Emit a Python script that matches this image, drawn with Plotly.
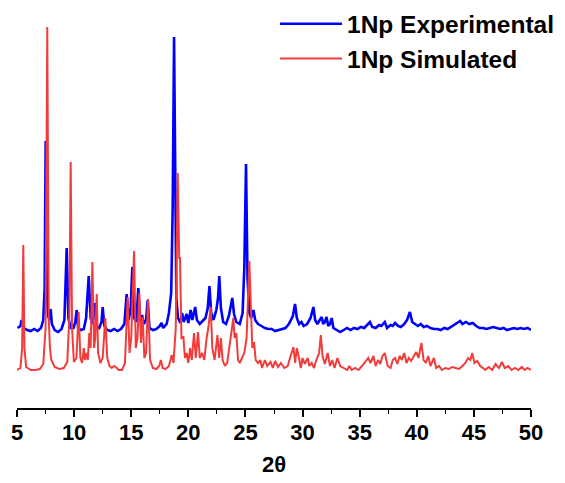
import plotly.graph_objects as go

# 2theta / intensity (a.u.)
exp_2theta = [5.05, 5.3, 5.4, 5.6, 5.9, 6.2, 6.5, 6.8, 7.1, 7.3, 7.42, 7.51, 7.6, 7.72, 7.85, 7.95, 8.05, 8.3, 8.6, 8.9,
              9.15, 9.35, 9.5, 9.7, 9.95, 10.1, 10.23, 10.35, 10.6, 10.85, 11.05, 11.28, 11.45, 11.6, 11.8, 11.95, 12.2,
              12.4, 12.5, 12.65, 12.9, 13.2, 13.5, 13.8, 14.1, 14.4, 14.6, 14.78, 14.95, 15.1, 15.25, 15.45, 15.62, 15.78,
              15.95, 16.1, 16.3, 16.44, 16.6, 16.9, 17.2, 17.5, 17.65, 17.8, 18.1, 18.3, 18.5, 18.63, 18.75, 18.85, 18.95,
              19.1, 19.3, 19.45, 19.6, 19.85, 20.0, 20.2, 20.35, 20.6, 20.75, 21.0, 21.2, 21.5, 21.7, 21.85, 22.0, 22.2,
              22.45, 22.6, 22.71, 22.85, 23.05, 23.3, 23.55, 23.7, 23.85, 24.0, 24.2, 24.5, 24.75, 24.9, 25.05, 25.18,
              25.35, 25.5, 25.7, 25.85, 26.1, 26.4, 26.7, 27.0, 27.3, 27.6, 27.9, 28.2, 28.5, 28.8, 29.0, 29.15, 29.34,
              29.5, 29.7, 29.9, 30.1, 30.4, 30.7, 30.95, 31.1, 31.3, 31.5, 31.68, 31.8, 31.95, 32.1, 32.25, 32.4, 32.55,
              32.7, 33.0, 33.3, 33.6, 33.9, 34.2, 34.5, 34.8, 35.1, 35.4, 35.7, 35.9, 36.1, 36.4, 36.7, 36.9, 37.2, 37.4,
              37.7, 37.9, 38.1, 38.35, 38.6, 38.9, 39.15, 39.4, 39.6, 39.85, 40.1, 40.35, 40.6, 40.9, 41.2, 41.5, 41.8,
              42.1, 42.4, 42.7, 43.0, 43.3, 43.55, 43.8, 44.0, 44.3, 44.6, 44.9, 45.2, 45.5, 45.8, 46.1, 46.4, 46.7, 47.0,
              47.3, 47.6, 47.9, 48.2, 48.5, 48.8, 49.1, 49.4, 49.7, 50.0]
exp_intensity = [80, 82, 88, 80, 78, 77, 79, 77, 80, 88, 120, 267, 120, 92, 88, 99, 84, 78, 76, 79,
                 88, 160, 90, 80, 80, 86, 98, 80, 78, 79, 90, 132, 90, 84, 105, 82, 80,
                 86, 101, 82, 78, 77, 79, 77, 79, 84, 114, 88, 100, 141, 90, 86, 120, 86,
                 93, 84, 88, 108, 80, 78, 79, 82, 85, 80, 84, 95, 115, 200, 371, 200, 110,
                 90, 85, 95, 86, 94, 85, 98, 88, 101, 88, 84, 86, 90, 100, 122, 95, 88,
                 98, 110, 132, 100, 86, 84, 92, 100, 110, 94, 86, 84, 95, 140, 244, 130,
                 95, 90, 98, 88, 84, 82, 80, 79, 79, 77, 78, 79, 80, 84, 88, 92, 104,
                 90, 84, 86, 82, 84, 90, 101, 88, 84, 88, 91, 84, 86, 91, 82, 84, 90,
                 80, 78, 76, 78, 80, 78, 80, 79, 81, 80, 84, 86, 81, 80, 83, 82, 86, 80,
                 83, 82, 85, 82, 81, 84, 88, 96, 86, 84, 82, 84, 81, 82, 80, 79, 79,
                 78, 80, 79, 81, 83, 85, 87, 84, 86, 84, 85, 82, 80, 80, 79, 80, 81, 80,
                 79, 80, 78, 79, 80, 79, 80, 79, 80, 78]

sim_2theta = [5.0, 5.3, 5.45, 5.55, 5.65, 5.8, 6.2, 6.6, 7.0, 7.3, 7.5, 7.65, 7.78, 7.88, 8.0, 8.3, 8.7, 9.1, 9.4,
              9.58, 9.70, 9.82, 9.98, 10.2, 10.4, 10.55, 10.7, 10.85, 10.95, 11.1, 11.2, 11.33, 11.45, 11.6, 11.75,
              11.85, 11.98, 12.1, 12.3, 12.5, 12.73, 12.9, 13.1, 13.3, 13.5, 13.65, 13.9, 14.2, 14.45, 14.69, 14.85,
              15.0, 15.25, 15.4, 15.55, 15.71, 15.85, 16.0, 16.15, 16.3, 16.47, 16.65, 16.9, 17.2, 17.45, 17.6, 17.75,
              18.0, 18.3, 18.55, 18.7, 18.9, 19.07, 19.2, 19.27, 19.4, 19.57, 19.7, 19.85, 20.0, 20.15, 20.3, 20.5,
              20.65, 20.85, 21.0, 21.2, 21.4, 21.6, 21.75, 21.96, 22.1, 22.3, 22.55, 22.7, 22.85, 23.0, 23.2, 23.4,
              23.6, 23.8, 23.94, 24.05, 24.2, 24.35, 24.5, 24.7, 24.9, 25.1, 25.34, 25.45, 25.6, 25.75, 25.9, 26.1,
              26.3, 26.45, 26.7, 26.9, 27.2, 27.4, 27.6, 27.85, 28.1, 28.4, 28.7, 28.9, 29.05, 29.2, 29.35, 29.5,
              29.65, 29.85, 30.0, 30.2, 30.45, 30.6, 30.8, 31.0, 31.2, 31.45, 31.6, 31.75, 31.95, 32.2, 32.4, 32.6,
              32.8, 33.05, 33.3, 33.6, 33.9, 34.1, 34.3, 34.6, 34.9, 35.2, 35.5, 35.75, 35.95, 36.2, 36.4, 36.6,
              36.8, 37.0, 37.2, 37.45, 37.7, 37.9, 38.1, 38.3, 38.5, 38.7, 38.9, 39.1, 39.3, 39.5, 39.75, 39.95,
              40.15, 40.4, 40.6, 40.8, 41.0, 41.2, 41.5, 41.7, 41.95, 42.2, 42.5, 42.8, 43.1, 43.4, 43.7, 44.0,
              44.25, 44.5, 44.7, 44.85, 45.05, 45.3, 45.55, 45.8, 46.0, 46.3, 46.6, 46.9, 47.2, 47.45, 47.7, 48.0,
              48.3, 48.6, 48.9, 49.2, 49.45, 49.7, 50.0]
sim_intensity = [38, 40, 60, 163, 60, 41, 38, 38, 39, 44, 80, 381, 90, 61, 48, 41, 39, 40, 46,
                 90, 246, 80, 46, 50, 96, 50, 45, 60, 48, 55, 48, 75, 60, 146, 60,
                 70, 114, 55, 45, 50, 90, 50, 42, 40, 42, 41, 38, 38, 45, 111, 55,
                 70, 157, 60, 70, 115, 65, 91, 50, 55, 109, 48, 40, 39, 42, 48, 40,
                 39, 42, 53, 45, 80, 235, 150, 150, 70, 71, 50, 55, 45, 60, 48, 75,
                 50, 76, 50, 55, 48, 70, 80, 101, 60, 48, 73, 50, 70, 48, 42, 45,
                 60, 75, 90, 70, 75, 48, 45, 50, 55, 70, 147, 110, 60, 66, 48, 45,
                 48, 40, 48, 42, 46, 40, 47, 41, 45, 40, 42, 50, 55, 61, 45, 60,
                 52, 40, 50, 44, 50, 42, 45, 40, 48, 55, 73, 52, 44, 55, 42, 48,
                 40, 50, 42, 40, 38, 42, 38, 40, 38, 42, 47, 50, 45, 52, 42, 48,
                 44, 52, 55, 42, 40, 48, 50, 44, 52, 48, 55, 45, 50, 47, 52, 56,
                 50, 65, 48, 45, 52, 42, 50, 40, 42, 38, 40, 39, 41, 40, 39, 42,
                 45, 50, 48, 55, 45, 47, 42, 40, 38, 41, 38, 44, 40, 46, 40, 42,
                 38, 40, 38, 41, 38, 40, 38]

x_ticks = [5, 10, 15, 20, 25, 30, 35, 40, 45, 50]
series_names = ["1Np Experimental", "1Np Simulated"]

FONT = "Liberation Sans, Arial, sans-serif"

fig = go.Figure()
fig.add_trace(go.Scatter(x=exp_2theta, y=exp_intensity, mode="lines", name=series_names[0],
                         line=dict(color="#0000ff", width=2.6)))
fig.add_trace(go.Scatter(x=sim_2theta, y=sim_intensity, mode="lines", name=series_names[1],
                         line=dict(color="#f23c3c", width=2)))

fig.update_layout(
    width=565, height=483,
    margin=dict(l=9, r=42, t=17, b=83, autoexpand=False),
    paper_bgcolor="white", plot_bgcolor="white",
    showlegend=True,
    legend=dict(x=0.502, y=1.062, xanchor="left", yanchor="top", traceorder="normal",
                font=dict(family=FONT, size=24.5, color="black", weight="bold"),
                itemwidth=62, bgcolor="rgba(0,0,0,0)"),
    xaxis=dict(range=[5, 50], tickvals=x_ticks, showline=True, linecolor="black", linewidth=1.5,
               ticks="outside", ticklen=7, tickwidth=1.5, tickcolor="black",
               minor=dict(ticks="outside", ticklen=4, dtick=2.5, tick0=5, tickcolor="black", tickwidth=1.3),
               showgrid=False, zeroline=False, ticklabelstandoff=-3,
               tickfont=dict(family=FONT, size=22, color="black", weight="bold"),
               title=dict(text="2θ", font=dict(family=FONT, size=22, color="black", weight="bold"), standoff=12)),
    yaxis=dict(range=[0, 383], visible=False),
)

fig.write_html("out.html")
